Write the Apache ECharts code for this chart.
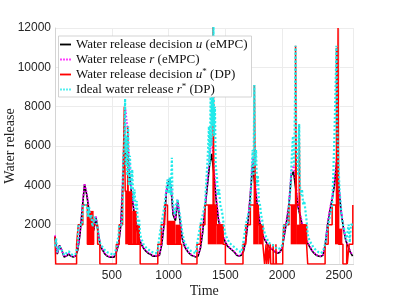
<!DOCTYPE html>
<html>
<head>
<meta charset="utf-8">
<script src="https://cdn.jsdelivr.net/npm/echarts@6/dist/echarts.min.js"></script>
<style>html,body{margin:0;padding:0;background:#fff}#c{width:399px;height:299px}</style>
</head>
<body>
<div id="c"></div>
<script>
// ---- time axis for eMPC series ----
const T = [0,20,40,60,80,100,120,140,160,180,200,220,240,260,280,300,320,340,360,380,
400,420,440,460,480,500,520,540,560,580,600,620,640,660,680,700,720,740,760,780,
800,820,840,860,880,900,920,940,960,980,1000,1020,1040,1060,1080,1100,1120,1140,1160,1180,
1200,1220,1240,1260,1280,1300,1320,1340,1360,1380,1400,1420,1440,1460,1480,1500,1520,1540,1560,1580,
1600,1620,1640,1660,1680,1700,1720,1740,1760,1780,1800,1820,1840,1860,1880,1900,1920,1940,1960,1980,
2000,2020,2040,2060,2080,2100,2120,2140,2160,2180,2200,2220,2240,2260,2280,2300,2320,2340,2360,2380,
2400,2420,2440,2460,2480,2500,2520,2540,2560,2580,2600,2620];
// Water release decision u (eMPC)
const U = [1400,500,950,700,350,400,500,400,350,400,700,1500,2800,4050,3500,2700,1900,1700,2400,1600,
900,700,500,400,350,350,350,600,1000,2000,4500,5700,5500,4300,3300,2500,1800,1300,1000,800,
650,550,500,400,400,400,450,1000,2000,3600,4200,4000,2500,2200,3200,2200,1300,900,700,550,
450,400,350,400,800,1600,2800,3900,5000,5600,4500,3200,2200,1800,1400,1100,900,800,700,600,
450,400,450,650,1200,2200,3500,5100,4000,3000,2200,1600,1300,1100,900,800,700,600,550,600,
800,1500,2200,3000,4500,4700,3800,2900,2400,1900,1500,1100,900,700,550,450,400,380,450,1000,
2000,2700,3300,4000,5200,3800,2600,1800,1200,900,600,400];
// Water release r (eMPC)
const R = [1450,550,950,700,380,420,520,420,380,420,750,1550,2900,4100,3600,2800,2000,1800,2450,1650,
950,720,520,420,380,380,380,650,1050,2100,5000,7900,6800,4500,3500,2600,1900,1350,1050,820,
680,580,520,430,420,420,480,1050,2100,3700,4300,4100,2600,2300,3300,2300,1350,950,720,580,
480,420,380,430,850,1700,2900,4000,5400,6400,5000,3400,2300,1900,1450,1150,950,820,720,620,
480,420,480,700,1250,2300,3600,5400,4500,3100,2300,1650,1350,1150,950,820,720,620,580,630,
850,1550,2300,3100,4700,5000,4200,3000,2500,2000,1550,1150,950,720,580,480,420,400,480,1050,
2100,2800,3400,4100,5400,3900,2700,1850,1250,950,650,450];
// Ideal water release r* (DP)
const RS_T = [0,10,20,40,60,80,100,120,140,160,180,200,205,240,245,280,290,300,310,320,330,340,350,360,370,380,390,400,420,440,460,480,500,520,540,560,565,590,595,600,610,617,622,630,637,644,650,660,670,680,690,700,710,720,730,740,750,760,780,800,820,840,860,880,900,910,935,965,980,990,1000,1010,1020,1029,1035,1045,1055,1065,1080,1090,1100,1110,1120,1140,1160,1180,1200,1220,1240,1250,1280,1320,1335,1345,1355,1362,1370,1377,1384,1390,1395,1400,1408,1415,1425,1435,1445,1455,1465,1475,1485,1500,1520,1540,1560,1580,1600,1620,1640,1655,1680,1720,1730,1740,1748,1755,1762,1770,1778,1786,1795,1805,1815,1825,1835,1850,1865,1880,1900,1920,1940,1960,1980,2005,2015,2055,2060,2075,2085,2095,2105,2112,2118,2124,2132,2140,2150,2156,2165,2175,2185,2195,2205,2215,2225,2240,2260,2280,2300,2320,2340,2360,2378,2405,2440,2450,2460,2468,2474,2478,2484,2490,2496,2505,2515,2525,2535,2545,2555,2565,2575,2585,2595,2605,2628];
const RS = [900,1300,600,900,700,450,550,650,500,450,500,900,2000,2000,3000,3000,2400,2900,2300,2500,1900,2000,2400,2300,2000,1700,1200,1000,850,700,600,550,500,450,800,1500,2000,2000,3000,5500,6000,8400,5000,6500,4500,7000,4000,5500,3800,4800,3200,3800,2800,3200,2000,2300,1500,1300,1000,850,750,650,600,550,550,1000,2000,3000,3800,4300,3600,4400,3500,5400,3300,2800,2500,3000,3300,2800,2500,2100,1600,1100,900,750,650,600,550,1000,2000,3000,4500,5500,7000,5000,8500,6000,9500,7000,12300,6500,8000,5000,4500,3500,3800,3000,2800,2500,2000,1500,1250,1050,950,850,750,650,600,1000,2000,3000,4500,5800,4500,9100,5000,5800,4000,4500,3200,3000,2500,2200,1800,1500,1300,1100,1000,950,850,750,800,1000,2000,2000,3000,4000,5500,6500,5000,8000,11100,6000,5500,4500,7100,4000,3500,3800,3000,3200,2700,2200,1500,1200,1000,800,700,600,550,650,1000,2000,3000,4500,6500,8500,10000,11100,7000,7000,5000,3800,3000,2400,2000,1800,1500,1200,1100,2000,1100,2000,2000];
// Water release decision u* (DP): step values
const US_T = [0,6,190,205,245,285,340,375,395,540,565,595,610,618,640,647,750,905,935,965,990,1115,1250,1280,1320,1345,1392,1400,1420,1480,1500,1655,1680,1720,1755,1765,1790,1830,1845,1858,1862,1875,1879,1895,1899,1920,1924,1945,1949,2005,2015,2060,2118,2126,2150,2157,2215,2225,2378,2405,2440,2478,2485,2492,2497,2535,2568,2573,2590,2622,2628];
const US = [1400,0,1000,2000,3000,1000,2000,1000,0,1000,2000,3000,8000,3700,7000,1000,0,1000,2000,3000,1000,0,1000,2000,3000,3000,12300,3000,2000,1000,0,1000,2000,3000,9100,3000,2000,1000,0,1000,0,1000,0,1000,0,1000,0,1000,0,1000,2000,3000,11100,3000,7100,2000,1000,0,1000,2000,3000,11000,3000,12000,1000,0,1000,0,1000,3000,3000];
// u* (DP) rapid switching blocks: start, end, low, high
const BAND_START = [285,618,680,720,990,1060,1345,1420,1745,1790,2075,2130,2465,2500];
const BAND_END   = [340,680,720,748,1060,1110,1420,1480,1790,1830,2130,2215,2500,2530];
const BAND_LO    = [1000,1000,1000,1000,1000,1000,1000,1000,1000,1000,1000,1000,1000,1000];
const BAND_HI    = [2700,3700,2700,2000,2200,2000,3000,2000,3000,2000,3000,2000,3000,1800];

const X_TICKS = [500,1000,1500,2000,2500];
const Y_TICKS = [2000,4000,6000,8000,10000,12000];
const NAMES = ['u','r','us','rs'];
const LABELS = [
  '{n|Water release decision }{i|u}{n| (eMPC)}',
  '{n|Water release }{i|r}{n| (eMPC)}',
  '{n|Water release decision }{i|u}{s|*}{n| (DP)}',
  '{n|Ideal water release }{i|r}{s|*}{n| (DP)}'
];
const SOLID_ICON = 'path://M0,0H12V2H0Z';
const DOT_ICON = 'path://M0,0H1.5V2H0Z M3,0H4.5V2H3Z M6,0H7.5V2H6Z M9,0H10.5V2H9Z';

const zip = (a, b) => a.map((v, i) => [v, b[i]]);
const serif = '"Liberation Serif","Times New Roman",serif';

const chart = echarts.init(document.getElementById('c'), null, {renderer: 'canvas'});
chart.setOption({
  animation: false,
  backgroundColor: '#fff',
  grid: {left: 55, right: 45.5, top: 28, bottom: 35, containLabel: false, outerBoundsMode: 'none'},
  legend: {
    z: 20,
    data: [
      {name: 'u', icon: SOLID_ICON},
      {name: 'r', icon: DOT_ICON},
      {name: 'us', icon: SOLID_ICON},
      {name: 'rs', icon: DOT_ICON}
    ],
    orient: 'vertical',
    left: 58.5, top: 36,
    padding: [1, 4, 0, 1.5],
    itemGap: 0,
    itemWidth: 11, itemHeight: 2,
    backgroundColor: '#fff',
    borderColor: '#c8c8c8', borderWidth: 0.8,
    formatter: name => LABELS[NAMES.indexOf(name)],
    textStyle: {
      lineHeight: 15,
      rich: {
        n: {fontFamily: serif, fontSize: 13, color: '#111', lineHeight: 15},
        i: {fontFamily: serif, fontSize: 13, fontStyle: 'italic', color: '#111', lineHeight: 15},
        s: {fontFamily: serif, fontSize: 9, color: '#111', lineHeight: 15, verticalAlign: 'top'}
      }
    }
  },
  xAxis: {
    type: 'value', min: 0, max: 2628, interval: 500,
    name: 'Time', nameLocation: 'middle', nameGap: 20, nameMoveOverlap: false,
    nameTextStyle: {fontFamily: serif, fontSize: 14, color: '#222'},
    axisLine: {show: true, onZero: false, lineStyle: {color: '#d4d4d4', width: 1}},
    axisTick: {show: false},
    axisLabel: {margin: 6, fontFamily: '"Liberation Sans",Arial,sans-serif', fontSize: 12, color: '#262626',
      formatter: v => X_TICKS.indexOf(v) >= 0 ? String(v) : ''},
    splitLine: {show: true, lineStyle: {color: '#ececec', width: 1}}
  },
  yAxis: {
    type: 'value', min: 0, max: 12000, interval: 2000,
    name: 'Water release', nameLocation: 'middle', nameGap: 38, nameMoveOverlap: false,
    nameTextStyle: {fontFamily: serif, fontSize: 14, color: '#222'},
    axisLine: {show: true, onZero: false, lineStyle: {color: '#d4d4d4', width: 1}},
    axisTick: {show: false},
    axisLabel: {margin: 4, fontFamily: '"Liberation Sans",Arial,sans-serif', fontSize: 12, color: '#262626',
      formatter: v => Y_TICKS.indexOf(v) >= 0 ? String(v) : ''},
    splitLine: {show: true, lineStyle: {color: '#ececec', width: 1}}
  },
  series: [
    {name: 'u', type: 'line', data: zip(T, U), symbol: 'none', z: 2,
     lineStyle: {color: '#000', width: 1.6}, itemStyle: {color: '#000'}},
    {name: 'r', type: 'line', data: zip(T, R), symbol: 'none', z: 3,
     lineStyle: {color: '#ff00ff', width: 1.8, type: [1.5, 1.8]}, itemStyle: {color: '#ff00ff'}},
    {name: 'us', type: 'line', data: zip(US_T, US), symbol: 'none', step: 'end', z: 4,
     lineStyle: {color: '#ff0000', width: 1.5}, itemStyle: {color: '#ff0000'}},
    {name: 'usband', type: 'custom', z: 4,
     data: BAND_START.map((s, i) => [s, BAND_END[i], BAND_LO[i], BAND_HI[i]]),
     encode: {x: [0, 1], y: [2, 3]},
     renderItem: (params, api) => {
       const p0 = api.coord([api.value(0), api.value(3)]);
       const p1 = api.coord([api.value(1), api.value(2)]);
       return {type: 'rect', shape: {x: p0[0], y: p0[1], width: p1[0] - p0[0], height: p1[1] - p0[1]},
               style: {fill: '#ff0000'}};
     }},
    {name: 'rs', type: 'line', data: zip(RS_T, RS), symbol: 'none', z: 5,
     lineStyle: {color: '#22eaea', width: 2.2, type: [2, 2]}, itemStyle: {color: '#22eaea'}}
  ]
});
</script>
</body>
</html>
